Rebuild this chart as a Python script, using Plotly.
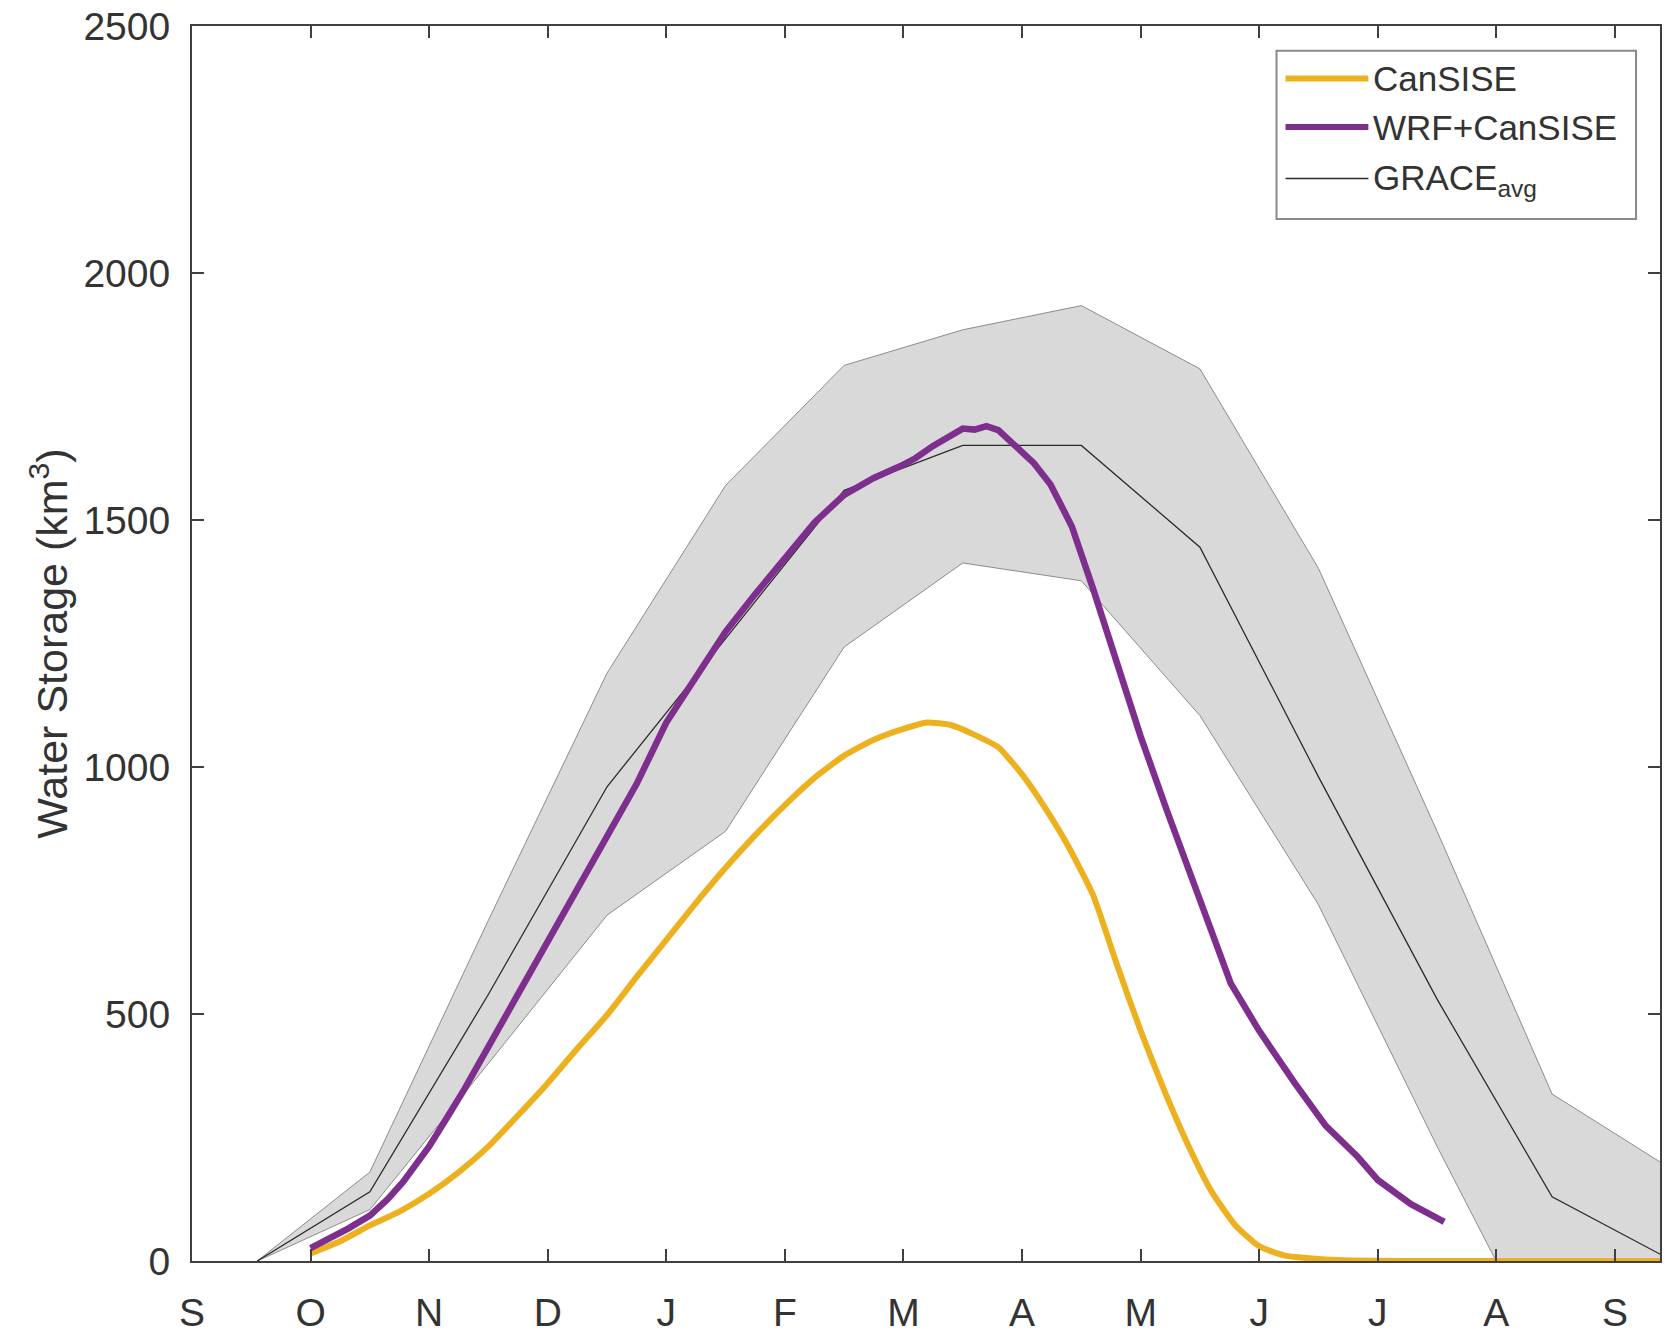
import plotly.graph_objects as go

# Month tick labels, Sep through Sep (x measured in months from 1 Sep)
month_labels = ["S", "O", "N", "D", "J", "F", "M", "A", "M", "J", "J", "A", "S"]

# GRACE monthly climatology: mean and spread, at mid-month positions
grace_x = [0.55, 1.5, 2.5, 3.5, 4.5, 5.5, 6.5, 7.5, 8.5, 9.5, 10.5, 11.47, 12.45]
grace_avg = [0, 140, 540, 960, 1260, 1560, 1651, 1651, 1445, 980, 530, 130, 5]
grace_hi = [0, 180, 690, 1190, 1570, 1813, 1885, 1934, 1806, 1402, 870, 338, 190]
grace_lo = [0, 104, 400, 700, 870, 1243, 1413, 1377, 1104, 721, 232, -220, -400]

# CanSISE snow water storage (km^3)
cansise_x = [1.0, 1.25, 1.5, 1.75, 2.0, 2.25, 2.5, 2.75, 3.0, 3.25, 3.5, 3.75,
             4.0, 4.25, 4.5, 4.75, 5.0, 5.25, 5.5, 5.75, 6.0, 6.2, 6.4, 6.6,
             6.8, 7.0, 7.2, 7.4, 7.6, 7.8, 8.0, 8.2, 8.4, 8.6, 8.8, 9.0, 9.2,
             9.5, 9.8, 10.2, 11.0, 12.0, 12.38]
cansise_y = [15, 40, 72, 100, 136, 180, 232, 295, 360, 430, 498, 575,
             650, 725, 796, 862, 923, 978, 1023, 1055, 1077, 1090, 1085, 1065,
             1040, 985, 915, 835, 740, 600, 466, 345, 235, 140, 72, 30, 12,
             4, 1, 0, 0, 0, 0]

# WRF+CanSISE water storage (km^3)
wrf_x = [1.0, 1.1, 1.2, 1.32, 1.5, 1.65, 1.78, 1.9, 2.0, 2.15, 2.3, 2.5, 2.75,
         3.0, 3.25, 3.5, 3.75, 4.0, 4.25, 4.5, 4.75, 5.0, 5.25, 5.5, 5.75,
         6.0, 6.1, 6.25, 6.4, 6.5, 6.6, 6.7, 6.8, 6.9, 7.0, 7.1, 7.24, 7.42,
         7.6, 7.77, 8.0, 8.22, 8.5, 8.76, 9.0, 9.3, 9.56, 9.83, 10.0, 10.28,
         10.56]
wrf_y = [26, 38, 50, 66, 92, 125, 160, 198, 232, 290, 349, 434, 540,
         647, 755, 860, 966, 1090, 1180, 1274, 1350, 1425, 1495, 1551, 1585,
         1612, 1625, 1650, 1672, 1685, 1683, 1690, 1682, 1660, 1636, 1615, 1572, 1487,
         1360, 1232, 1062, 913, 732, 562, 466, 360, 274, 211, 164, 115,
         79]

FONT = "Liberation Sans, Arial, Helvetica, sans-serif"
AXIS_COLOR = "#404040"
TEXT_COLOR = "#333333"
YELLOW = "#EDB120"
PURPLE = "#7E2F8E"

fig = go.Figure()

# GRACE spread envelope as a closed polygon
fig.add_trace(go.Scatter(
    x=grace_x + grace_x[::-1],
    y=grace_hi + grace_lo[::-1],
    fill="toself", fillcolor="#d9d9d9",
    line=dict(color="#8c8c8c", width=1),
    mode="lines", hoverinfo="skip", showlegend=False,
))
fig.add_trace(go.Scatter(
    x=grace_x, y=grace_avg, mode="lines",
    line=dict(color="#2b2b2b", width=1.3), name="GRACE avg", showlegend=False,
))
fig.add_trace(go.Scatter(
    x=cansise_x, y=cansise_y, mode="lines",
    line=dict(color=YELLOW, width=6, shape="spline", smoothing=0.5),
    name="CanSISE", showlegend=False,
))
fig.add_trace(go.Scatter(
    x=wrf_x, y=wrf_y, mode="lines",
    line=dict(color=PURPLE, width=6.5), name="WRF+CanSISE", showlegend=False,
))

# Plot area in pixels: left 192, right 1662, top 26, bottom 1273
L, R, T, B = 192, 1662, 26, 1273


def px(xp):
    return (xp - L) / (R - L)


def py(yp):
    return (B - yp) / (B - T)


# Boxed legend drawn in paper coordinates
shapes = [
    dict(type="rect", xref="paper", yref="paper",
         x0=px(1278), x1=px(1638), y0=py(221), y1=py(51),
         line=dict(color="#8a8a8a", width=2), fillcolor="white", layer="above"),
]
legend_rows = [
    ("CanSISE", YELLOW, 6, 79, 79),
    ("WRF+CanSISE", PURPLE, 6, 128, 128),
    ("GRACE<sub>avg</sub>", "#2b2b2b", 1.3, 180, 181),
]
annotations = []
for text, color, width, yline, ytext in legend_rows:
    shapes.append(dict(type="line", xref="paper", yref="paper",
                       x0=px(1287), x1=px(1370), y0=py(yline), y1=py(yline),
                       line=dict(color=color, width=width), layer="above"))
    annotations.append(dict(xref="paper", yref="paper", x=px(1373), y=py(ytext),
                            xanchor="left", yanchor="middle", text=text,
                            showarrow=False,
                            font=dict(family=FONT, size=35, color=TEXT_COLOR)))

fig.update_layout(
    width=1665, height=1337,
    margin=dict(l=L, r=1665 - R, t=T, b=1337 - B),
    paper_bgcolor="white", plot_bgcolor="white",
    font=dict(family=FONT, color=TEXT_COLOR),
    shapes=shapes, annotations=annotations,
    showlegend=False,
)
fig.update_xaxes(
    range=[0, 12.38], tickmode="array",
    tickvals=list(range(len(month_labels))), ticktext=month_labels,
    showgrid=False, zeroline=False,
    showline=True, linecolor=AXIS_COLOR, linewidth=2, mirror="ticks",
    ticks="inside", ticklen=12, tickwidth=2, tickcolor=AXIS_COLOR,
    tickfont=dict(family=FONT, size=39, color=TEXT_COLOR),
    ticklabelstandoff=16,
)
fig.update_yaxes(
    range=[0, 2500], tickmode="array",
    tickvals=[0, 500, 1000, 1500, 2000, 2500],
    showgrid=False, zeroline=False,
    showline=True, linecolor=AXIS_COLOR, linewidth=2, mirror="ticks",
    ticks="inside", ticklen=12, tickwidth=2, tickcolor=AXIS_COLOR,
    tickfont=dict(family=FONT, size=39, color=TEXT_COLOR),
    ticklabelstandoff=12,
    title=dict(text="Water Storage (km<sup>3</sup>)", standoff=2,
               font=dict(family=FONT, size=43, color=TEXT_COLOR)),
)

fig.write_html("out.html")
